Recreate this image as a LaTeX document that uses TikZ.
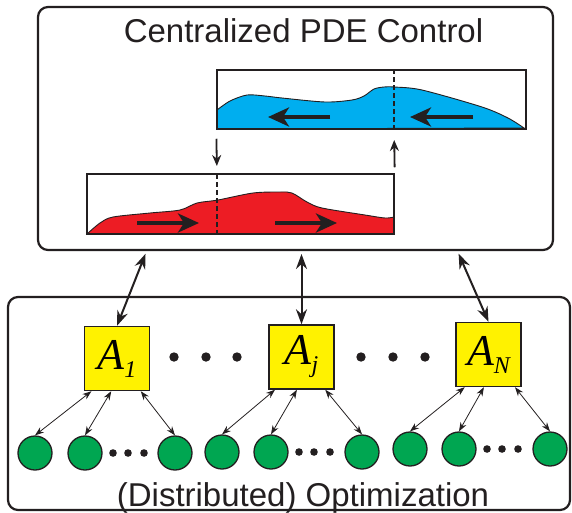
\documentclass[tikz,border=0pt]{standalone}
\usepackage{fontspec}
\setmainfont{Liberation Sans}
\newfontfamily\agentfont{Liberation Serif}
\usetikzlibrary{arrows.meta, positioning, calc}
\definecolor{lineblack}{RGB}{35, 31, 32}
\definecolor{flowblue}{RGB}{0, 174, 239}
\definecolor{flowred}{RGB}{237, 28, 36}
\definecolor{agentyellow}{RGB}{255, 242, 0}
\definecolor{leafgreen}{RGB}{0, 166, 81}
\newcommand{\agentlabel}[1]{{\agentfont\itshape\fontsize{44}{44}\selectfont A\raisebox{-8pt}{\fontsize{24}{24}\selectfont #1}}}

\begin{document}
\begin{tikzpicture}[x=1pt, y=-1pt,
  panel/.style={draw=lineblack, line width=2.2pt, rounded corners=10pt, inner sep=0pt},
  plotbox/.style={draw=lineblack, line width=1.5pt, inner sep=0pt},
  agent/.style={draw=lineblack, fill=agentyellow, line width=1.4pt, minimum width=65pt, minimum height=64pt, inner sep=0pt},
  leaf/.style={circle, draw=lineblack, fill=leafgreen, line width=1.3pt, minimum size=34pt, inner sep=0pt},
  cutline/.style={draw=lineblack, line width=1.4pt, dash pattern=on 5pt off 3pt},
  flowarrow/.style={draw=lineblack, line width=4.5pt, -{Stealth[length=21pt, width=19pt, inset=6pt]}},
  steparrow/.style={draw=lineblack, line width=1.8pt, -{Stealth[length=11pt, width=9pt]}},
  bigarrow/.style={draw=lineblack, line width=2pt, {Stealth[length=15pt, width=11pt]}-{Stealth[length=15pt, width=11pt]}},
  linkarrow/.style={draw=lineblack, line width=0.8pt, {Stealth[length=9pt, width=6.5pt]}-{Stealth[length=9pt, width=6.5pt]}},
  title/.style={font=\fontsize{33}{38}\selectfont, text=lineblack, anchor=base}]
  \useasboundingbox (0,0) rectangle (572,512);

  % frames
  \node[panel, minimum width=515pt, minimum height=243pt] (top) at (295.5,128.5) {};
  \node[panel, minimum width=562pt, minimum height=213pt] (bottom) at (289,403.5) {};
  \node[title] (toptitle) at (303.5,42) {Centralized PDE Control};
  \node[title] (bottomtitle) at (303,506) {(Distributed) Optimization};

  % blue profile
  \filldraw[fill=flowblue, draw=lineblack, line width=0.9pt]
    (217,129) -- plot[smooth] coordinates {(217,110) (230,101) (247,95) (265,96) (282,98) (325,102) (352,100) (364,96) (374,89) (384,87) (394,87) (422,90) (482,107) (508,118) (524,128)} -- cycle;
  % red profile
  \filldraw[fill=flowred, draw=lineblack, line width=0.9pt]
    plot[smooth] coordinates {(87,234) (100,223) (113,217) (150,213) (180,210) (197,203) (218,200) (253,193) (280,192) (292,193) (307,202) (322,208) (365,215) (385,218) (394,217)} -- (394,234) -- cycle;

  \node[plotbox, minimum width=309pt, minimum height=59pt] (blue) at (371.5,99.5) {};
  \node[plotbox, minimum width=307pt, minimum height=60pt] (red) at (240.5,204) {};
  \coordinate (bluecut) at (394,129);
  \coordinate (redcut) at (217,174);
  \draw[cutline] (bluecut |- blue.north) -- (bluecut);
  \draw[cutline] (redcut) -- (redcut |- red.south);

  \draw[flowarrow] (330,117) -- (268,117);
  \draw[flowarrow] (473,117) -- (410,117);
  \draw[flowarrow] (137,223) -- (199,223);
  \draw[flowarrow] (275,223) -- (337,223);

  \draw[steparrow, shorten <=9pt, shorten >=8pt] (blue.south west) -- (redcut);
  \draw[steparrow, shorten <=6pt, shorten >=11pt] (red.north east) -- (bluecut);

  % agents
  \node[agent] (a1) at (117,358.5) {\agentlabel{1}};
  \node[agent] (aj) at (301.5,357) {\agentlabel{j}};
  \node[agent] (an) at (488.5,354.5) {\agentlabel{N}};
  \foreach \x in {174, 206, 237, 361, 393, 425}
    \fill[lineblack] (\x,357) circle (4.7pt);

  \coordinate (t1) at (147,250);
  \coordinate (t2) at (301.5,250);
  \coordinate (t3) at (457,250);
  \draw[bigarrow, shorten <=4pt] (t1) -- (a1.north);
  \draw[bigarrow, shorten <=4pt] (t2) -- (aj.north);
  \draw[bigarrow, shorten <=4pt] (t3) -- (an.north);

  % local nodes
  \foreach \x/\y [count=\i] in {35/453, 85/453, 175/453, 222/452, 271/452, 362/452, 410/449, 459/449, 550/449}
    \node[leaf] (g\i) at (\x,\y) {};
  \foreach \x/\y in {113/453, 128/453, 144/453, 299/452, 314/452, 330/452, 487/449, 502/449, 518/449}
    \fill[lineblack] (\x,\y) circle (3.8pt);

  \draw[linkarrow] (a1.-128) -- (g1.north);
  \draw[linkarrow] (a1.-100) -- (g2.north);
  \draw[linkarrow] (a1.-54) -- (g3.north);
  \draw[linkarrow] (aj.-129) -- (g4.north);
  \draw[linkarrow] (aj.-98) -- (g5.north);
  \draw[linkarrow] (aj.-54) -- (g6.north);
  \draw[linkarrow] (an.-126) -- (g7.north);
  \draw[linkarrow] (an.-98) -- (g8.north);
  \draw[linkarrow] (an.-51) -- (g9.north);
\end{tikzpicture}
\end{document}
